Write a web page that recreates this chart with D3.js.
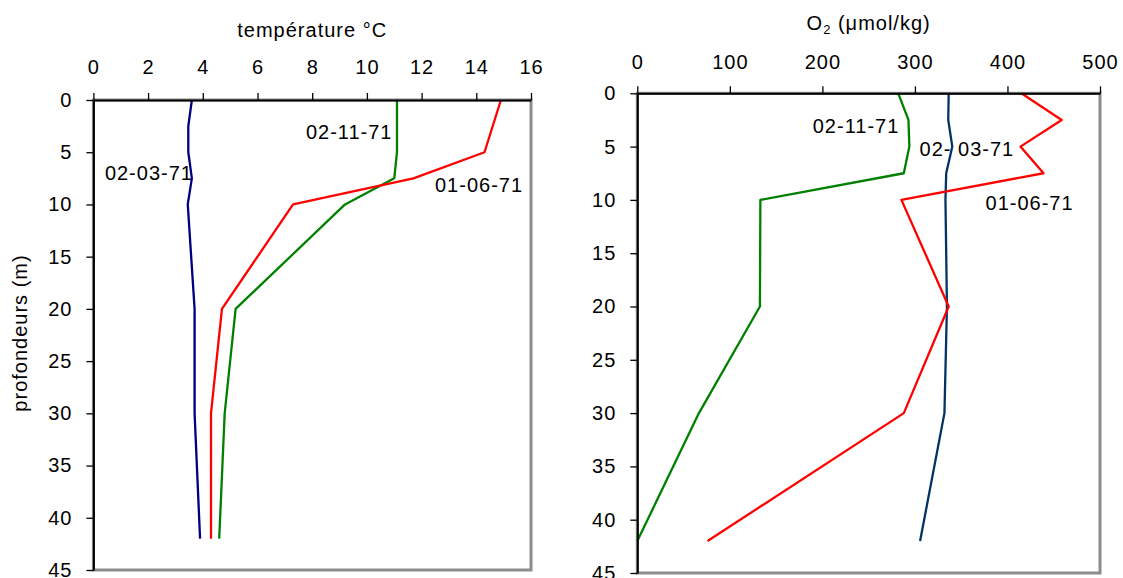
<!doctype html>
<html lang="fr">
<head>
<meta charset="utf-8">
<title>Profils température / O2</title>
<script src="https://d3js.org/d3.v7.min.js"></script>
<style>
  body { margin: 0; background: #fff; }
  svg text { font-family: "Liberation Sans", Arial, sans-serif; font-size: 20px; letter-spacing: 1px; fill: #000; }
</style>
</head>
<body>
<svg id="chart" width="1123" height="578"></svg>
<script>
// profondeurs (m) des prélèvements
var depths = [0, 2.5, 5, 7.5, 10, 20, 30, 42];

// température °C
var tempMar = [3.6, 3.47, 3.47, 3.6, 3.45, 3.7, 3.7, 3.9];      // 02-03-71
var tempJun = [14.9, null, 14.3, 11.7, 7.3, 4.7, 4.3, 4.3];      // 01-06-71 (pas de mesure à 2.5 m)
var tempNov = [11.1, 11.1, 11.1, 11.0, 9.2, 5.2, 4.8, 4.6];      // 02-11-71

// O2 (µmol/kg)
var o2Mar = [336.5, 336, 340.4, 333.8, 333, 334.6, 331.9, 305.6];
var o2Jun = [415, 458.6, 414, 439, 285.4, 336.5, 288, 75.9];
var o2Nov = [282, 293, 294, 288, 133, 132.5, 66.6, 0];

var tempTicks = [0, 2, 4, 6, 8, 10, 12, 14, 16];
var o2Ticks = [0, 100, 200, 300, 400, 500];
var depthTicks = [0, 5, 10, 15, 20, 25, 30, 35, 40, 45];

// étiquettes des campagnes (valeur, profondeur)
var tempLabels = [
  {text: "02-11-71", v: 7.77, d: 3.73},
  {text: "02-03-71", v: 0.42, d: 7.66},
  {text: "01-06-71", v: 12.49, d: 8.78}
];
var o2Labels = [
  {text: "02-11-71", v: 189.6, d: 3.71},
  {text: "02- 03-71", v: 305, d: 5.84},
  {text: "01-06-71", v: 376.3, d: 10.95}
];

var svg = d3.select("#chart");

function drawPanel(opt){
  var x = d3.scaleLinear().domain(opt.xDomain).range([opt.left, opt.right]);
  var y = d3.scaleLinear().domain([0, 45]).range([opt.top, opt.bottom]);
  var g = svg.append("g");

  //plot area border (grey, Excel style)
  g.append("rect")
    .attr("x", opt.left).attr("y", opt.top)
    .attr("width", opt.right - opt.left).attr("height", opt.bottom - opt.top)
    .attr("fill", "none").attr("stroke", "#8c8c8c").attr("stroke-width", 3);

  //series
  var line = d3.line()
    .x(function(d){ return x(d[0]); })
    .y(function(d){ return y(d[1]); });

  opt.series.forEach(function(s){
    var pts = s.values
      .map(function(v, i){ return [v, depths[i]]; })
      .filter(function(d){ return d[0] !== null; });
    g.append("path")
      .datum(pts)
      .attr("fill", "none")
      .attr("stroke", s.color)
      .attr("stroke-width", 2.3)
      .attr("stroke-linejoin", "round")
      .attr("d", line);
  });

  //axes
  var xAxis = g.append("g")
    .attr("transform", "translate(0," + opt.top + ")")
    .call(d3.axisTop(x).tickValues(opt.xTicks).tickSize(7).tickSizeOuter(0).tickPadding(opt.xPad));
  var yAxis = g.append("g")
    .attr("transform", "translate(" + opt.left + ",0)")
    .call(d3.axisLeft(y).tickValues(depthTicks).tickSize(7).tickSizeOuter(0).tickPadding(14));

  [xAxis, yAxis].forEach(function(a){
    a.attr("font-size", null).attr("font-family", null);
    a.select(".domain").attr("stroke", "#000").attr("stroke-width", 2);
    a.selectAll(".tick line").attr("stroke", "#000").attr("stroke-width", 1.3);
    a.selectAll(".tick text").attr("fill", "#000");
  });
  xAxis.selectAll(".tick text").attr("dy", "0");

  //labels
  opt.labels.forEach(function(l){
    g.append("text")
      .attr("x", x(l.v))
      .attr("y", y(l.d))
      .text(l.text);
  });

  return {x: x, y: y, g: g};
}

drawPanel({
  left: 93.4, right: 531, top: 100, bottom: 570,
  xDomain: [0, 16], xTicks: tempTicks, xPad: 19,
  series: [
    {values: tempMar, color: "#000080"},
    {values: tempNov, color: "#008000"},
    {values: tempJun, color: "#ff0000"}
  ],
  labels: tempLabels
});

drawPanel({
  left: 637.3, right: 1100, top: 93.3, bottom: 573,
  xDomain: [0, 500], xTicks: o2Ticks, xPad: 17,
  series: [
    {values: o2Mar, color: "#003366"},
    {values: o2Nov, color: "#008000"},
    {values: o2Jun, color: "#ff0000"}
  ],
  labels: o2Labels
});

//titles
svg.append("text")
  .attr("x", (93.4 + 531) / 2).attr("y", 37)
  .attr("text-anchor", "middle")
  .text("température °C");

var t2 = svg.append("text")
  .attr("x", (637.3 + 1100) / 2).attr("y", 30)
  .attr("text-anchor", "middle");
t2.append("tspan").text("O");
t2.append("tspan").attr("font-size", "13px").attr("dy", 4).text("2");
t2.append("tspan").attr("dy", -4).text(" (\u03bcmol/kg)");

svg.append("text")
  .attr("transform", "translate(27,333) rotate(-90)")
  .attr("text-anchor", "middle")
  .text("profondeurs (m)");
</script>
</body>
</html>
